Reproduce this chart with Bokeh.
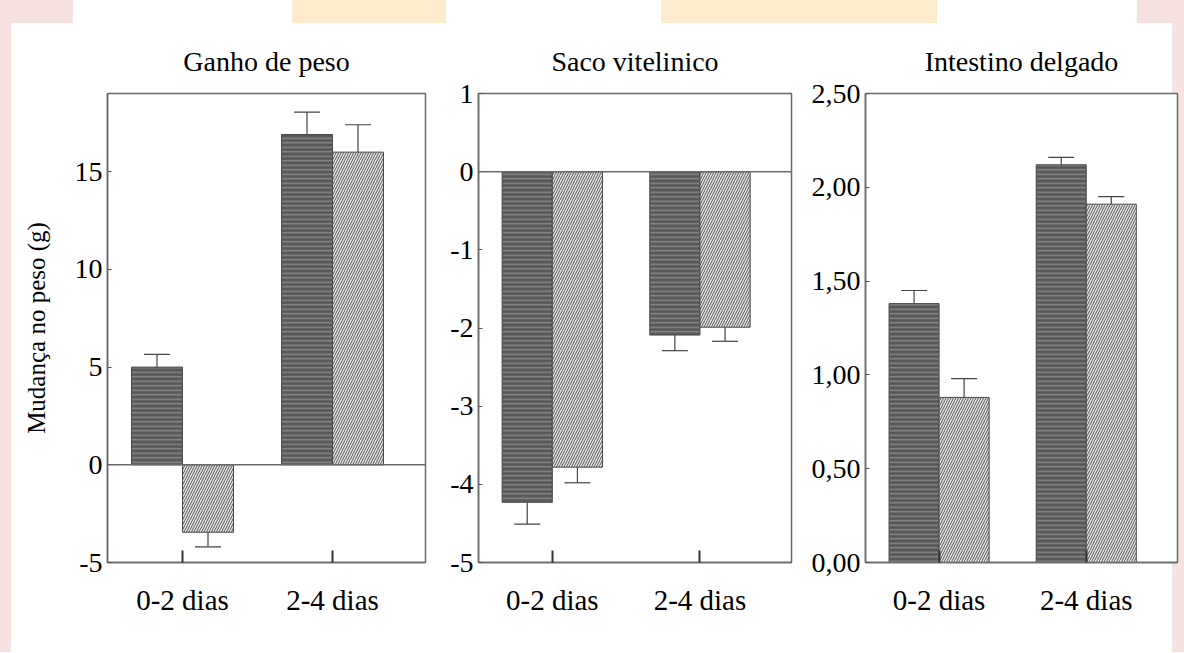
from bokeh.plotting import figure
from bokeh.layouts import row
from bokeh.models import Range1d, FixedTicker, Span, Whisker, ColumnDataSource, TeeHead
from bokeh.embed import file_html
from bokeh.resources import INLINE

# ---------------- data ----------------
groups = ["0-2 dias", "2-4 dias"]
group_pos = [1, 2]

titles = ["Ganho de peso", "Saco vitelinico", "Intestino delgado"]
ylabel = "Mudança no peso (g)"

ganho_escuro = [5.0, 16.9]
ganho_escuro_err = [0.65, 1.15]
ganho_claro = [-3.45, 16.0]
ganho_claro_err = [0.75, 1.4]

saco_escuro = [-4.23, -2.09]
saco_escuro_err = [0.28, 0.2]
saco_claro = [-3.78, -1.99]
saco_claro_err = [0.2, 0.18]

intestino_escuro = [1.38, 2.12]
intestino_escuro_err = [0.07, 0.04]
intestino_claro = [0.88, 1.91]
intestino_claro_err = [0.1, 0.04]

ticks_ganho = [-5, 0, 5, 10, 15]
labels_ganho = ["-5", "0", "5", "10", "15"]
ticks_saco = [1, 0, -1, -2, -3, -4, -5]
labels_saco = ["1", "0", "-1", "-2", "-3", "-4", "-5"]
ticks_intestino = [0, 0.5, 1, 1.5, 2, 2.5]
labels_intestino = ["0,00", "0,50", "1,00", "1,50", "2,00", "2,50"]

# ---------------- style ----------------
FONT = "'Liberation Serif', 'Times New Roman', serif"
TICK_FONT = "Times New Roman"
BAR_W = 0.34
OFF = 0.17
LINE = "#6a6a6a"


def make_panel(title, dark, dark_err, light, light_err, yr, ticks, labels,
               frame_w, mb_left, mb_right, ylab=None, zero=True):
    p = figure(frame_width=frame_w, frame_height=469,
               min_border_left=mb_left, min_border_right=mb_right,
               min_border_top=93, min_border_bottom=90,
               x_range=Range1d(0.5, 2.62), y_range=Range1d(*yr),
               output_backend="svg", toolbar_location=None, title=title)
    p.title.text_font = FONT
    p.title.text_font_size = "28px"
    p.title.text_font_style = "normal"
    p.title.text_color = "black"
    p.title.align = "center"
    p.title.standoff = 34
    p.xgrid.visible = False
    p.ygrid.visible = False
    p.outline_line_color = LINE
    p.outline_line_width = 1.5
    p.background_fill_color = "white"
    p.border_fill_alpha = 0

    if zero:
        p.add_layout(Span(location=0, dimension="width", line_color=LINE, line_width=1.5))

    xd = [g - OFF for g in group_pos]
    xl = [g + OFF for g in group_pos]
    p.vbar(x=xd, top=dark, bottom=0, width=BAR_W, fill_color="#585858",
           hatch_pattern="horizontal_line", hatch_color="#8a8a8a",
           hatch_scale=4.5, hatch_weight=1.4, line_color="#4a4a4a", line_width=1)
    p.vbar(x=xl, top=light, bottom=0, width=BAR_W, fill_color="#e6e6e6",
           hatch_pattern="right_diagonal_line", hatch_color="#2e2e2e",
           hatch_scale=5, hatch_weight=0.8, line_color="#4a4a4a", line_width=1)

    for xs, v, e in ((xd, dark, dark_err), (xl, light, light_err)):
        src = ColumnDataSource(dict(base=xs,
                                    lower=[a - b for a, b in zip(v, e)],
                                    upper=[a + b for a, b in zip(v, e)]))
        w = Whisker(base="base", lower="lower", upper="upper", source=src,
                    line_color="#444444", line_width=1.2,
                    upper_head=TeeHead(size=26, line_color="#444444", line_width=1.2),
                    lower_head=TeeHead(size=26, line_color="#444444", line_width=1.2))
        p.add_layout(w)

    xa = p.xaxis[0]
    ya = p.yaxis[0]
    xa.ticker = FixedTicker(ticks=group_pos)
    ya.ticker = FixedTicker(ticks=ticks)
    xa.major_label_overrides = {g: lab for g, lab in zip(group_pos, groups)}
    ya.major_label_overrides = {t: lab for t, lab in zip(ticks, labels)}

    for ax in (xa, ya):
        ax.major_label_text_font = TICK_FONT
        ax.major_label_text_font_style = "normal"
        ax.major_label_text_color = "black"
        ax.major_tick_out = 0
        ax.minor_tick_line_color = None
        ax.axis_line_color = LINE
        ax.axis_line_width = 1.5

    xa.major_label_text_font_size = "29px"
    xa.major_label_standoff = 21
    xa.major_tick_in = 12
    xa.major_tick_line_color = "#333333"
    xa.major_tick_line_width = 2

    ya.major_label_text_font_size = "28px"
    ya.major_label_standoff = 5
    ya.major_tick_in = 4
    ya.major_tick_line_color = "#555555"
    if ylab:
        ya.axis_label = ylab
        ya.axis_label_text_font = FONT
        ya.axis_label_text_font_size = "25px"
        ya.axis_label_text_font_style = "normal"
        ya.axis_label_text_color = "black"
        ya.axis_label_standoff = 22
    return p


p1 = make_panel(titles[0], ganho_escuro, ganho_escuro_err, ganho_claro, ganho_claro_err,
                (-5, 19), ticks_ganho, labels_ganho, 318, 107, 15, ylab=ylabel)
p2 = make_panel(titles[1], saco_escuro, saco_escuro_err, saco_claro, saco_claro_err,
                (-5, 1), ticks_saco, labels_saco, 313, 38, 9)
p3 = make_panel(titles[2], intestino_escuro, intestino_escuro_err, intestino_claro,
                intestino_claro_err, (0, 2.5), ticks_intestino, labels_intestino,
                312, 65, 7, zero=False)

PINK = "#f6e3e1"
YELLOW = "#fdeccb"


def band(color, x, y, w, h):
    return f"linear-gradient({color},{color}) {x} {y} / {w} {h} no-repeat"


bg = ", ".join([
    band(PINK, "0px", "0px", "11px", "100%"),
    band(PINK, "1172px", "0px", "12px", "100%"),
    band(PINK, "0px", "0px", "73px", "23px"),
    band(YELLOW, "292px", "0px", "154px", "23px"),
    band(YELLOW, "661px", "0px", "276px", "23px"),
    band(PINK, "1137px", "0px", "47px", "23px"),
    "white",
])

layout = row(p1, p2, p3, spacing=0, styles={"background": bg})
open("out.html", "w").write(file_html(layout, INLINE))
